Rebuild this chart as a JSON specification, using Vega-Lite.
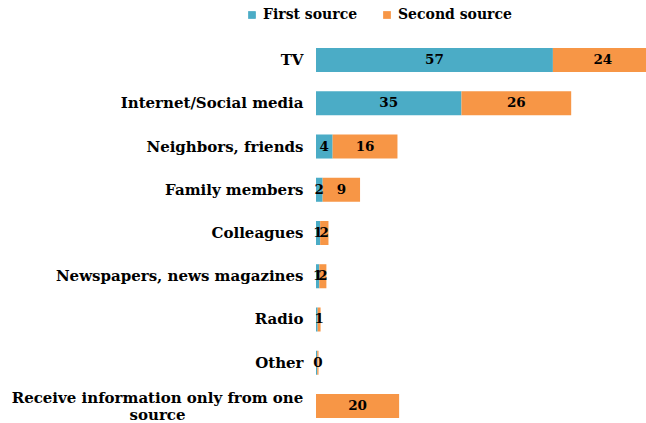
{
  "$schema": "https://vega.github.io/schema/vega-lite/v6.json",
  "width": 330,
  "height": 370,
  "autosize": "none",
  "padding": {"left": 316, "top": 48, "right": 0, "bottom": 5},
  "config": {"view": {"stroke": null}, "font": "DejaVu Serif"},
  "data": {"values": [
    {"cat": "TV", "series": "First source", "value": 57, "label": "57"},
    {"cat": "TV", "series": "Second source", "value": 24, "label": "24"},
    {"cat": "Internet/Social media", "series": "First source", "value": 35, "label": "35"},
    {"cat": "Internet/Social media", "series": "Second source", "value": 26.4, "label": "26"},
    {"cat": "Neighbors, friends", "series": "First source", "value": 4, "label": "4"},
    {"cat": "Neighbors, friends", "series": "Second source", "value": 15.6, "label": "16"},
    {"cat": "Family members", "series": "First source", "value": 1.6, "label": "2"},
    {"cat": "Family members", "series": "Second source", "value": 9, "label": "9"},
    {"cat": "Colleagues", "series": "First source", "value": 1, "label": "1"},
    {"cat": "Colleagues", "series": "Second source", "value": 2, "label": "2"},
    {"cat": "Newspapers, news magazines", "series": "First source", "value": 0.8, "label": "1"},
    {"cat": "Newspapers, news magazines", "series": "Second source", "value": 1.7, "label": "2"},
    {"cat": "Radio", "series": "First source", "value": 0.4, "label": ""},
    {"cat": "Radio", "series": "Second source", "value": 0.7, "label": "1"},
    {"cat": "Other", "series": "First source", "value": 0.3, "label": ""},
    {"cat": "Other", "series": "Second source", "value": 0.3, "label": "0"},
    {"cat": "Receive information only from one source", "series": "First source", "value": 0, "label": ""},
    {"cat": "Receive information only from one source", "series": "Second source", "value": 20, "label": "20"}
  ]},
  "encoding": {
    "y": {
      "field": "cat", "type": "nominal",
      "sort": ["TV", "Internet/Social media", "Neighbors, friends", "Family members", "Colleagues", "Newspapers, news magazines", "Radio", "Other", "Receive information only from one source"],
      "scale": {"paddingInner": 0.444, "paddingOuter": 0},
      "axis": {
        "title": null, "domain": false, "ticks": false,
        "labelPadding": {"condition": {"test": "datum.value == 'Receive information only from one source'", "value": 159}, "value": 13},
        "labelAlign": {"condition": {"test": "datum.value == 'Receive information only from one source'", "value": "center"}, "value": "right"},
        "labelOffset": {"condition": {"test": "datum.value == 'Receive information only from one source'", "value": -8}, "value": 0},
        "labelFontSize": 15, "labelFontWeight": "bold", "labelColor": "#000000",
        "labelLimit": 400, "labelLineHeight": 17,
        "labelExpr": "datum.value == 'Receive information only from one source' ? ['Receive information only from one', 'source'] : datum.value"
      }
    }
  },
  "layer": [
    {
      "mark": {"type": "bar", "clip": true},
      "encoding": {
        "x": {"field": "value", "type": "quantitative", "stack": "zero", "scale": {"domain": [0, 79.4], "nice": false}, "axis": null},
        "color": {
          "field": "series", "type": "nominal",
          "scale": {"domain": ["First source", "Second source"], "range": ["#4bacc6", "#f79646"]},
          "legend": {
            "title": null, "orient": "none", "legendX": -71, "legendY": -40, "direction": "horizontal",
            "symbolType": "square", "symbolSize": 60, "symbolStrokeWidth": 0,
            "labelFontSize": 14, "labelFontWeight": "bold", "labelColor": "#000000", "columnPadding": 22
          }
        },
        "order": {"field": "series"}
      }
    },
    {
      "transform": [
        {"stack": "value", "groupby": ["cat"], "sort": [{"field": "series"}], "as": ["v0", "v1"]},
        {"fold": ["v0", "v1"], "as": ["edge", "pos"]}
      ],
      "mark": {"type": "text", "fontWeight": "bold", "fontSize": 13.5, "color": "#000000"},
      "encoding": {
        "x": {"field": "pos", "type": "quantitative", "aggregate": "mean"},
        "detail": {"field": "series"},
        "text": {"field": "label"}
      }
    }
  ]
}
